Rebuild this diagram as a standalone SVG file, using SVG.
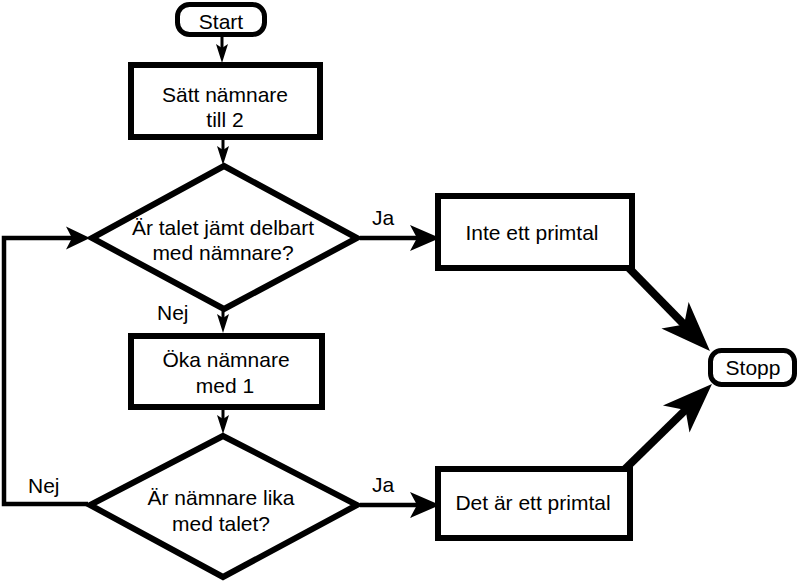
<svg xmlns="http://www.w3.org/2000/svg" width="800" height="584" viewBox="0 0 800 584">
<style>
.box{fill:#fff;stroke:#000;stroke-width:6}
.term{fill:#fff;stroke:#000;stroke-width:5}
.t{font-family:"Liberation Sans",Arial,sans-serif;font-size:21px;fill:#000;text-anchor:middle}
.lbl{font-family:"Liberation Sans",Arial,sans-serif;font-size:21px;fill:#000}
.c{fill:none;stroke:#000;stroke-width:3}
.cm{fill:none;stroke:#000;stroke-width:4.5}
.cb{fill:none;stroke:#000;stroke-width:8}
</style>
<defs>
<marker id="sm" markerUnits="userSpaceOnUse" markerWidth="19" markerHeight="12" refX="13" refY="6" orient="auto" overflow="visible">
<path d="M0,0 L19,6 L0,12 L4,6 z" fill="#000"/>
</marker>
<marker id="md" markerUnits="userSpaceOnUse" markerWidth="30" markerHeight="26" refX="22" refY="13" orient="auto" overflow="visible">
<path d="M0,0 L30,13 L0,26 L7,13 z" fill="#000"/>
</marker>
<marker id="lp" markerUnits="userSpaceOnUse" markerWidth="24" markerHeight="23" refX="16" refY="11.5" orient="auto" overflow="visible">
<path d="M0,0 L24,11.5 L0,23 L6,11.5 z" fill="#000"/>
</marker>
<marker id="bg" markerUnits="userSpaceOnUse" markerWidth="50" markerHeight="38" refX="25" refY="19" orient="auto" overflow="visible">
<path d="M0,0 L50,19 L0,38 L13,19 z" fill="#000"/>
</marker>
</defs>

<g id="connectors">
<path class="c" d="M222,37 L222,57" marker-end="url(#sm)"/>
<path class="c" d="M223,140 L223,159" marker-end="url(#sm)"/>
<path class="c" d="M223,310 L223,327" marker-end="url(#sm)"/>
<path class="c" d="M223,410 L223,428" marker-end="url(#sm)"/>
<path class="cm" d="M360,238 L432,238" marker-end="url(#md)"/>
<path class="cm" d="M360,505 L432,505" marker-end="url(#md)"/>
<path class="cm" d="M88,504 L4,504 L4,238 L82,238" marker-end="url(#lp)"/>
<path class="cb" d="M622,261 L692.5,333.1" marker-end="url(#bg)"/>
<path class="cb" d="M623,471 L694.1,401.5" marker-end="url(#bg)"/>
<text class="lbl" x="372" y="225">Ja</text>
<text class="lbl" x="157" y="320">Nej</text>
<text class="lbl" x="28" y="493">Nej</text>
<text class="lbl" x="372" y="492">Ja</text>
</g>

<g id="start">
<rect class="term" x="177.5" y="4.5" width="87" height="30" rx="12"/>
<text class="t" x="221" y="29">Start</text>
</g>

<g id="satt">
<rect class="box" x="131" y="65" width="189" height="72"/>
<text class="t" x="225" y="102">Sätt nämnare</text>
<text class="t" x="225" y="127">till 2</text>
</g>

<g id="delbart">
<polygon class="box" points="224,166 357,238 224,309 92,238"/>
<text class="t" x="223" y="235">Är talet jämt delbart</text>
<text class="t" x="223" y="260">med nämnare?</text>
</g>

<g id="oka">
<rect class="box" x="131" y="336" width="191" height="71"/>
<text class="t" x="226" y="367">Öka nämnare</text>
<text class="t" x="225" y="393">med 1</text>
</g>

<g id="lika">
<polygon class="box" points="223,436 357,505 223,577 90,505"/>
<text class="t" x="221" y="505">Är nämnare lika</text>
<text class="t" x="221" y="531">med talet?</text>
</g>

<g id="inte">
<rect class="box" x="438" y="196" width="194" height="72"/>
<text class="t" x="532" y="240">Inte ett primtal</text>
</g>

<g id="primtal">
<rect class="box" x="438" y="469" width="192" height="69"/>
<text class="t" x="533" y="510">Det är ett primtal</text>
</g>

<g id="stopp">
<rect class="term" x="710.5" y="350.5" width="84" height="34" rx="11"/>
<text class="t" x="753" y="375">Stopp</text>
</g>
</svg>
